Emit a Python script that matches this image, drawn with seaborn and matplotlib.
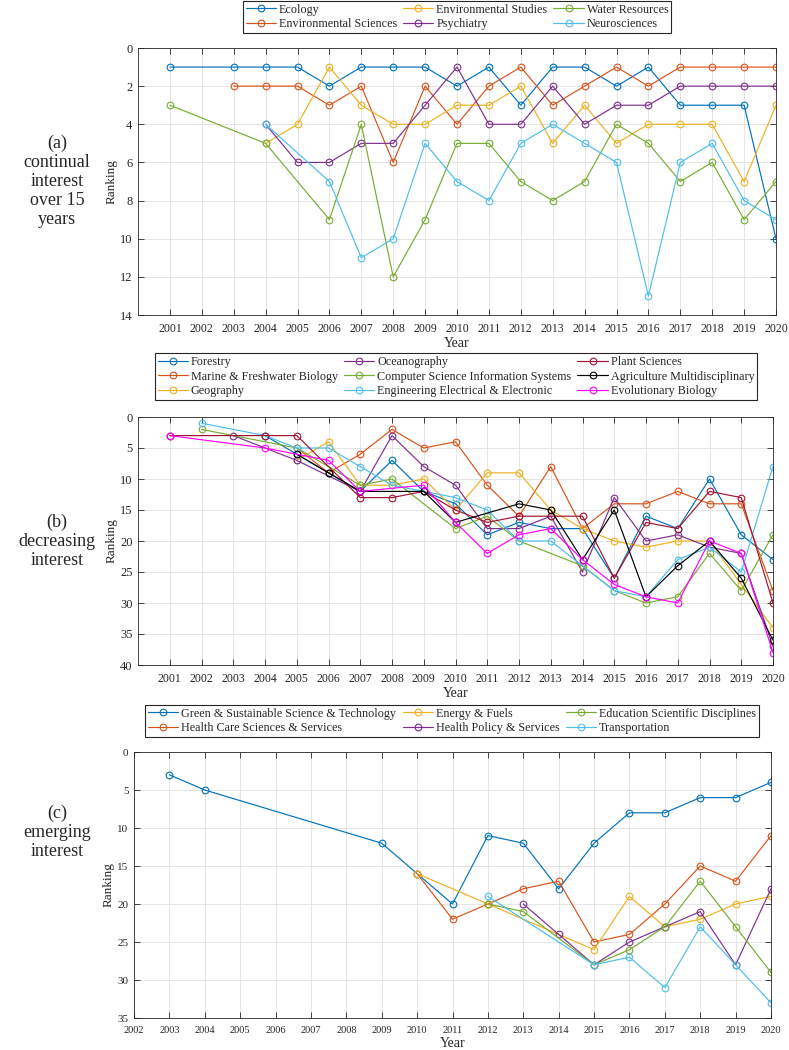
import matplotlib
matplotlib.use("Agg")
import matplotlib.pyplot as plt
import seaborn as sns
import pandas as pd

# ---------------- data ----------------
# Panel (a): continual interest
a_names = ["Ecology", "Environmental Sciences", "Environmental Studies",
           "Psychiatry", "Water Resources", "Neurosciences"]
ecology_years = [2001, 2003, 2004, 2005, 2006, 2007, 2008, 2009, 2010, 2011, 2012, 2013, 2014, 2015, 2016, 2017, 2018, 2019, 2020]
ecology_rank = [1, 1, 1, 1, 2, 1, 1, 1, 2, 1, 3, 1, 1, 2, 1, 3, 3, 3, 10]
envsci_years = [2003, 2004, 2005, 2006, 2007, 2008, 2009, 2010, 2011, 2012, 2013, 2014, 2015, 2016, 2017, 2018, 2019, 2020]
envsci_rank = [2, 2, 2, 3, 2, 6, 2, 4, 2, 1, 3, 2, 1, 2, 1, 1, 1, 1]
envstud_years = [2004, 2005, 2006, 2007, 2008, 2009, 2010, 2011, 2012, 2013, 2014, 2015, 2016, 2017, 2018, 2019, 2020]
envstud_rank = [5, 4, 1, 3, 4, 4, 3, 3, 2, 5, 3, 5, 4, 4, 4, 7, 3]
psych_years = [2004, 2005, 2006, 2007, 2008, 2009, 2010, 2011, 2012, 2013, 2014, 2015, 2016, 2017, 2018, 2019, 2020]
psych_rank = [4, 6, 6, 5, 5, 3, 1, 4, 4, 2, 4, 3, 3, 2, 2, 2, 2]
water_years = [2001, 2004, 2006, 2007, 2008, 2009, 2010, 2011, 2012, 2013, 2014, 2015, 2016, 2017, 2018, 2019, 2020]
water_rank = [3, 5, 9, 4, 12, 9, 5, 5, 7, 8, 7, 4, 5, 7, 6, 9, 7]
neuro_years = [2004, 2006, 2007, 2008, 2009, 2010, 2011, 2012, 2013, 2014, 2015, 2016, 2017, 2018, 2019, 2020]
neuro_rank = [4, 7, 11, 10, 5, 7, 8, 5, 4, 5, 6, 13, 6, 5, 8, 9]

# Panel (b): decreasing interest
b_names = ["Forestry", "Marine & Freshwater Biology", "Geography", "Oceanography",
           "Computer Science Information Systems", "Engineering Electrical & Electronic",
           "Plant Sciences", "Agriculture Multidisciplinary", "Evolutionary Biology"]
forestry_years = [2004, 2005, 2006, 2007, 2008, 2009, 2010, 2011, 2012, 2013, 2014, 2015, 2016, 2017, 2018, 2019, 2020]
forestry_rank = [3, 6, 9, 12, 7, 12, 14, 19, 17, 18, 18, 26, 16, 18, 10, 19, 23]
marine_years = [2005, 2006, 2007, 2008, 2009, 2010, 2011, 2012, 2013, 2014, 2015, 2016, 2017, 2018, 2019, 2020]
marine_rank = [5, 9, 6, 2, 5, 4, 11, 16, 8, 18, 14, 14, 12, 14, 14, 28]
geog_years = [2005, 2006, 2007, 2008, 2009, 2010, 2011, 2012, 2013, 2014, 2015, 2016, 2017, 2018, 2019, 2020]
geog_rank = [7, 4, 11, 11, 10, 15, 9, 9, 15, 18, 20, 21, 20, 20, 27, 34]
ocean_years = [2003, 2005, 2007, 2008, 2009, 2010, 2011, 2012, 2013, 2014, 2015, 2016, 2017, 2018, 2019, 2020]
ocean_rank = [3, 7, 12, 3, 8, 11, 18, 18, 16, 25, 13, 20, 19, 21, 22, 37]
compsci_years = [2002, 2005, 2007, 2008, 2010, 2011, 2012, 2014, 2015, 2016, 2017, 2018, 2019, 2020]
compsci_rank = [2, 5, 11, 10, 18, 16, 20, 24, 28, 30, 29, 22, 28, 19]
eng_years = [2002, 2004, 2005, 2006, 2007, 2008, 2009, 2010, 2011, 2012, 2013, 2015, 2016, 2017, 2018, 2019, 2020]
eng_rank = [1, 3, 5, 5, 8, 11, 12, 13, 15, 20, 20, 28, 29, 23, 21, 25, 8]
plant_years = [2001, 2004, 2005, 2007, 2008, 2009, 2010, 2011, 2012, 2013, 2014, 2015, 2016, 2017, 2018, 2019, 2020]
plant_rank = [3, 3, 3, 13, 13, 12, 15, 17, 16, 16, 16, 26, 17, 18, 12, 13, 30]
agri_years = [2005, 2006, 2007, 2009, 2010, 2012, 2013, 2014, 2015, 2016, 2017, 2018, 2019, 2020]
agri_rank = [6, 9, 12, 12, 17, 14, 15, 23, 15, 29, 24, 20, 26, 36]
evol_years = [2001, 2004, 2006, 2007, 2009, 2010, 2011, 2012, 2013, 2014, 2015, 2016, 2017, 2018, 2019, 2020]
evol_rank = [3, 5, 7, 12, 11, 17, 22, 19, 18, 23, 27, 29, 30, 20, 22, 38]

# Panel (c): emerging interest
c_names = ["Green & Sustainable Science & Technology", "Health Care Sciences & Services",
           "Energy & Fuels", "Health Policy & Services",
           "Education Scientific Disciplines", "Transportation"]
green_years = [2003, 2004, 2009, 2010, 2011, 2012, 2013, 2014, 2015, 2016, 2017, 2018, 2019, 2020]
green_rank = [3, 5, 12, 16, 20, 11, 12, 18, 12, 8, 8, 6, 6, 4]
hcare_years = [2010, 2011, 2012, 2013, 2014, 2015, 2016, 2017, 2018, 2019, 2020]
hcare_rank = [16, 22, 20, 18, 17, 25, 24, 20, 15, 17, 11]
energy_years = [2010, 2012, 2015, 2016, 2017, 2018, 2019, 2020]
energy_rank = [16, 20, 26, 19, 23, 22, 20, 19]
hpolicy_years = [2013, 2014, 2015, 2016, 2017, 2018, 2019, 2020]
hpolicy_rank = [20, 24, 28, 25, 23, 21, 28, 18]
edu_years = [2012, 2013, 2015, 2016, 2017, 2018, 2019, 2020]
edu_rank = [20, 21, 28, 26, 23, 17, 23, 29]
transp_years = [2012, 2015, 2016, 2017, 2018, 2019, 2020]
transp_rank = [19, 28, 27, 31, 23, 28, 33]

a_series = [(ecology_years, ecology_rank), (envsci_years, envsci_rank), (envstud_years, envstud_rank),
            (psych_years, psych_rank), (water_years, water_rank), (neuro_years, neuro_rank)]
b_series = [(forestry_years, forestry_rank), (marine_years, marine_rank), (geog_years, geog_rank),
            (ocean_years, ocean_rank), (compsci_years, compsci_rank), (eng_years, eng_rank),
            (plant_years, plant_rank), (agri_years, agri_rank), (evol_years, evol_rank)]
c_series = [(green_years, green_rank), (hcare_years, hcare_rank), (energy_years, energy_rank),
            (hpolicy_years, hpolicy_rank), (edu_years, edu_rank), (transp_years, transp_rank)]

panel_labels = ["(a)\ncontinual\ninterest\nover 15\nyears", "(b)\ndecreasing\ninterest", "(c)\nemerging\ninterest"]

# ---------------- style ----------------
matlab_colors = ["#0072BD", "#D95319", "#EDB120", "#7E2F8E", "#77AC30",
                 "#4DBEEE", "#A2142F", "#000000", "#FF00FF"]

sns.set_style("white")
plt.rcParams["font.family"] = ["Liberation Serif", "DejaVu Serif"]
plt.rcParams["axes.edgecolor"] = "#262626"
plt.rcParams["axes.linewidth"] = 0.6

W, H = 789, 1050
fig = plt.figure(figsize=(W / 100, H / 100), dpi=100)


def px_axes(left, right, top, bottom):
    return fig.add_axes([left / W, 1 - bottom / H, (right - left) / W, (bottom - top) / H])


def draw_panel(ax, names, series, xlim, xticks, ylim, yticks, xfs, yfs):
    frames = []
    for n, (yrs, rk) in zip(names, series):
        frames.append(pd.DataFrame({"Year": yrs, "Ranking": rk, "Subject": n}))
    df = pd.concat(frames, ignore_index=True)
    for i, n in enumerate(names):
        c = matlab_colors[i]
        sub = df[df["Subject"] == n]
        sns.lineplot(data=sub, x="Year", y="Ranking", ax=ax, color=c, marker="o",
                     markersize=4.8, markerfacecolor="none", markeredgecolor=c,
                     markeredgewidth=0.8, linewidth=0.85, label=n, sort=False,
                     estimator=None)
    ax.set_xlim(*xlim)
    ax.set_ylim(ylim[1], ylim[0])
    ax.set_xticks(xticks)
    ax.set_yticks(yticks)
    ax.tick_params(axis="x", labelsize=xfs, direction="in", length=4, width=0.6,
                   top=True, bottom=True, colors="#262626", pad=6)
    ax.tick_params(axis="y", labelsize=yfs, direction="in", length=4, width=0.6,
                   left=True, right=True, colors="#262626", pad=4)
    ax.grid(True, color="#e0e0e0", linewidth=0.6)
    ax.set_axisbelow(True)
    ax.set_xlabel("Year", fontsize=10, labelpad=1)
    ax.set_ylabel("Ranking", fontsize=9.5, labelpad=2)
    for s in ax.spines.values():
        s.set_color("#262626")
        s.set_linewidth(0.6)
    leg = ax.get_legend()
    if leg is not None:
        leg.remove()


ax_a = px_axes(138, 776, 48, 315)
ax_b = px_axes(138, 773, 417, 665)
ax_c = px_axes(134, 771, 752, 1018)

draw_panel(ax_a, a_names, a_series, (2000, 2020), list(range(2001, 2021)), (0, 14), list(range(0, 15, 2)), 8.5, 9)
draw_panel(ax_b, b_names, b_series, (2000, 2020), list(range(2001, 2021)), (0, 40), list(range(0, 41, 5)), 8.5, 9)
draw_panel(ax_c, c_names, c_series, (2002, 2020), list(range(2002, 2021)), (0, 35), list(range(0, 36, 5)), 7.5, 8)


def add_legend(ax, cx, bottom_px):
    h, l = ax.get_legend_handles_labels()
    leg = fig.legend(h, l, ncol=3, loc="lower center",
                     bbox_to_anchor=(cx / W, 1 - bottom_px / H),
                     fontsize=8.7, frameon=True, fancybox=False, framealpha=1,
                     edgecolor="#262626", handlelength=2.5, handletextpad=0.25,
                     columnspacing=0.5, labelspacing=0.2, borderpad=0.25,
                     borderaxespad=0.0)
    leg.get_frame().set_linewidth(0.8)
    return leg


add_legend(ax_a, 457, 33)
add_legend(ax_b, 456, 400)
add_legend(ax_c, 452, 737)

for lab, ypx in zip(panel_labels, [181, 541, 832]):
    fig.text(57 / W, 1 - ypx / H, lab, ha="center", va="center", fontsize=13,
             linespacing=1.15)

fig.savefig("out.png", dpi=100)
